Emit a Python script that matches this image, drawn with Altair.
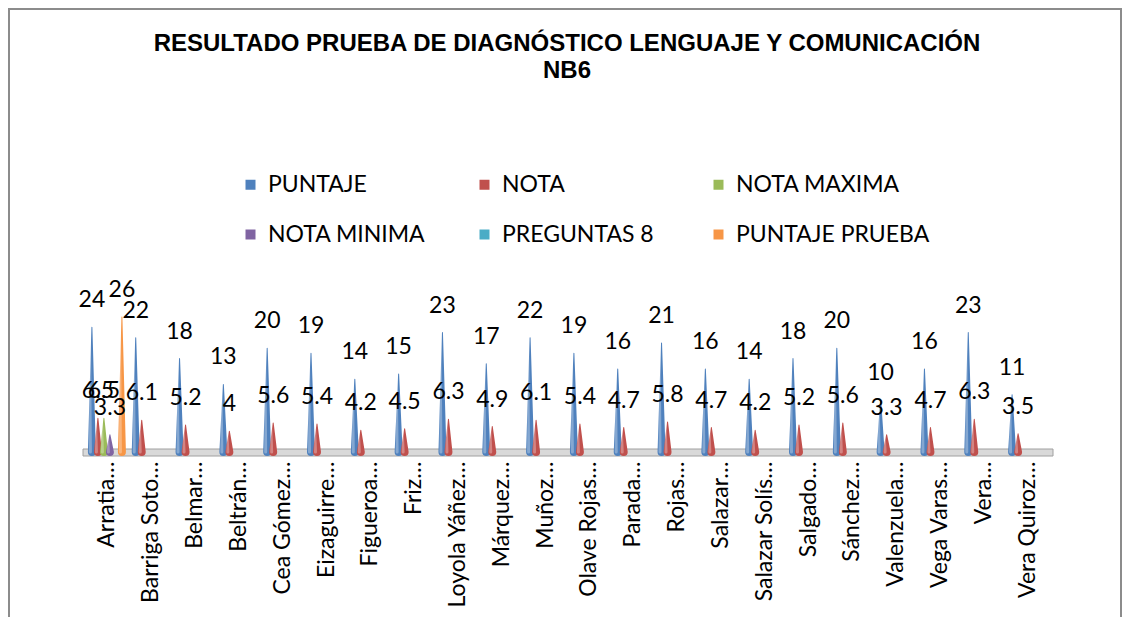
import altair as alt
import pandas as pd
import json

# ---- data ----
categories = ["Arratia…", "Barriga Soto…", "Belmar…", "Beltrán…", "Cea Gómez…",
              "Eizaguirre…", "Figueroa…", "Friz…", "Loyola Yáñez…", "Márquez…",
              "Muñoz…", "Olave Rojas…", "Parada…", "Rojas…", "Salazar…",
              "Salazar Solís…", "Salgado…", "Sánchez…", "Valenzuela…",
              "Vega Varas…", "Vera…", "Vera Quiroz…"]
puntaje = [24, 22, 18, 13, 20, 19, 14, 15, 23, 17, 22, 19, 16, 21, 16, 14, 18, 20, 10, 16, 23, 11]
nota = [6.5, 6.1, 5.2, 4, 5.6, 5.4, 4.2, 4.5, 6.3, 4.9, 6.1, 5.4, 4.7, 5.8, 4.7, 4.2, 5.2, 5.6, 3.3, 4.7, 6.3, 3.5]
nota_maxima = [6.5] + [None] * 21
nota_minima = [3.3] + [None] * 21
preguntas_8 = [None] * 22
puntaje_prueba = [26] + [None] * 21

series_names = ["PUNTAJE", "NOTA", "NOTA MAXIMA", "NOTA MINIMA", "PREGUNTAS 8", "PUNTAJE PRUEBA"]
series_values = [puntaje, nota, nota_maxima, nota_minima, preguntas_8, puntaje_prueba]
series_colors = ["#4F81BD", "#C0504D", "#9BBB59", "#8064A2", "#4BACC6", "#F79646"]

SERIES_STEP = 0.137  # fraction of a category slot between neighbouring series

# ---- long tables built from the arrays ----
cone_rows, label_rows = [], []
for si, (s, vals) in enumerate(zip(series_names, series_values)):
    for ci, (c, v) in enumerate(zip(categories, vals)):
        if v is None:
            continue
        pos = ci + (si - 2.5) * SERIES_STEP
        key = f"{c}|{s}"
        cone_rows.append({"pos": pos, "series": s, "key": key, "v": 0, "w": 8})
        cone_rows.append({"pos": pos, "series": s, "key": key, "v": v, "w": 0})
        label_rows.append({"pos": pos, "series": s, "v": v, "txt": f"{v:g}"})
cones = pd.DataFrame(cone_rows)
labels = pd.DataFrame(label_rows)
legend_df = pd.DataFrame({"series": series_names})

W, H = 964, 161
PL, PT = 77, 283
FS = 23

x_scale = alt.Scale(domain=[-0.5, len(categories) - 0.5], nice=False, zero=False)
x_enc = alt.X("pos:Q", scale=x_scale,
              axis=alt.Axis(title=None, values=list(range(len(categories))),
                            labelExpr=json.dumps(categories, ensure_ascii=False) + "[datum.value]",
                            labelAngle=-90, labelAlign="right",
                            labelBaseline="middle", labelPadding=9,
                            labelFont="Lato", labelFontSize=FS, labelColor="#000000",
                            labelLimit=0, labelOverlap=False, labelFlush=False,
                            domain=False, ticks=False, grid=False))
y_enc = alt.Y("v:Q", scale=alt.Scale(domain=[0, 31], nice=False), axis=None)
series_scale = alt.Scale(domain=series_names, range=series_colors)

frame = alt.Chart(pd.DataFrame({"a": [0]})).mark_rect(
    fill="transparent", stroke="#8c8c8c", strokeWidth=2
).encode(x=alt.value(-PL + 1), x2=alt.value(W + 72), y=alt.value(-PT + 1), y2=alt.value(H + 400))

floor = alt.Chart(pd.DataFrame({"a": [0]})).mark_rect(
    fill="#d9d9d9", stroke="#a0a0a0", strokeWidth=1
).encode(x=alt.value(-2), x2=alt.value(W + 4), y=alt.value(H - 3), y2=alt.value(H + 4))

legend_layer = alt.Chart(legend_df).mark_square(size=0, opacity=1).encode(
    x=alt.value(0), y=alt.value(0),
    color=alt.Color("series:N", sort=series_names, scale=series_scale,
                    legend=alt.Legend(title=None, orient="none", legendX=154, legendY=-118,
                                      direction="horizontal", columns=3, gridAlign="all",
                                      columnPadding=11, rowPadding=26,
                                      symbolType="square", symbolSize=100,
                                      symbolStrokeWidth=0, symbolOpacity=1,
                                      labelFont="Lato", labelFontSize=FS, labelColor="#000000",
                                      labelLimit=0, labelOffset=6)),
)

cone = alt.Chart(cones).mark_trail().encode(
    x=x_enc, y=y_enc,
    size=alt.Size("w:Q", scale=None, legend=None),
    detail="key:N",
    order=alt.Order("v:Q"),
    fill=alt.Fill("series:N", sort=series_names, scale=series_scale, legend=None),
)

shine = alt.Chart(cones).mark_trail(color="white", opacity=0.3).encode(
    x=alt.X("pos:Q"), y=alt.Y("v:Q"),
    xOffset=alt.value(-1.5),
    size=alt.Size("w:Q", scale=alt.Scale(domain=[0, 8], range=[0, 3]), legend=None),
    detail="key:N",
    order=alt.Order("v:Q"),
)

text = alt.Chart(labels).mark_text(
    font="Lato", fontSize=FS, color="#000000", baseline="middle", dy=-27
).encode(x=alt.X("pos:Q"), y=alt.Y("v:Q"), text="txt:N")

chart = alt.layer(frame, floor, legend_layer, cone, shine, text).properties(
    width=W, height=H,
    title=alt.Title(["RESULTADO PRUEBA DE DIAGNÓSTICO LENGUAJE Y COMUNICACIÓN", "NB6"],
                    font="Liberation Sans", fontSize=24, fontWeight="bold", color="#000000",
                    anchor="middle", lineHeight=27, offset=0, dy=75),
    autosize=alt.AutoSizeParams(type="none"),
    padding={"left": PL, "top": PT, "right": 74, "bottom": 165},
).configure_view(stroke=None)

chart.save("out.html", embed_options={"renderer": "svg", "actions": False})
